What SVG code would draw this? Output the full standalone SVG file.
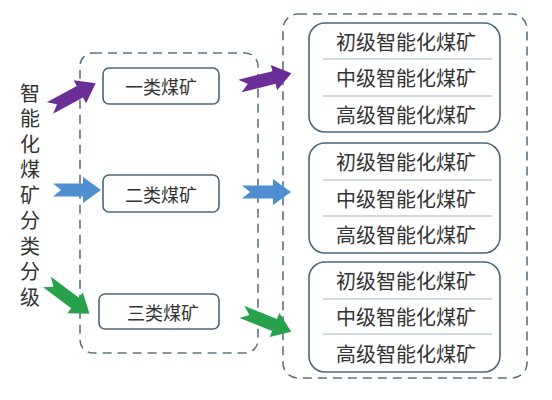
<svg xmlns="http://www.w3.org/2000/svg" width="552" height="400" viewBox="0 0 552 400">
<style>
text{font-family:"Noto Sans CJK SC","Liberation Sans",sans-serif;fill:#333;text-anchor:middle;dominant-baseline:central}
.dash{fill:none;stroke:#5a7487;stroke-width:1.6;stroke-dasharray:9 6}
.node{fill:#fff;stroke:#4b677c;stroke-width:1.6}
.div{stroke:#9fb3c4;stroke-width:1.2}
.t18{font-size:18px}
.t20{font-size:20px}
.vert{writing-mode:vertical-rl;text-anchor:start;letter-spacing:5.5px}
</style>
<rect width="552" height="400" fill="#fff"/>
<g id="title">
<text class="t20 vert" x="30" y="83">智能化煤矿分类分级</text>
</g>
<g id="groupMid"><rect class="dash" x="80" y="53" width="178" height="300" rx="13"/></g>
<g id="groupRight"><rect class="dash" x="283" y="14" width="244" height="364" rx="15"/></g>
<g id="class1"><rect class="node" x="103" y="68" width="116" height="36" rx="6"/><text class="t18" x="161" y="86">一类煤矿</text></g>
<g id="class2"><rect class="node" x="103" y="175" width="116" height="37" rx="6"/><text class="t18" x="161" y="193.5">二类煤矿</text></g>
<g id="class3"><rect class="node" x="99" y="294" width="120" height="35" rx="6"/><text class="t18" x="163" y="311.5">三类煤矿</text></g>
<g id="levels1" class="t20">
<rect class="node" x="309" y="23" width="191" height="109" rx="16"/>
<line class="div" x1="323" y1="59" x2="492" y2="59"/><line class="div" x1="323" y1="96" x2="492" y2="96"/>
<text x="406" y="41">初级智能化煤矿</text><text x="406" y="77.5">中级智能化煤矿</text><text x="406" y="114">高级智能化煤矿</text>
</g>
<g id="levels2" class="t20">
<rect class="node" x="309" y="143" width="191" height="110" rx="16"/>
<line class="div" x1="323" y1="180" x2="492" y2="180"/><line class="div" x1="323" y1="216" x2="492" y2="216"/>
<text x="406" y="161.5">初级智能化煤矿</text><text x="406" y="198">中级智能化煤矿</text><text x="406" y="234.5">高级智能化煤矿</text>
</g>
<g id="levels3" class="t20">
<rect class="node" x="309" y="262" width="191" height="110" rx="16"/>
<line class="div" x1="323" y1="299" x2="492" y2="299"/><line class="div" x1="323" y1="334" x2="492" y2="334"/>
<text x="406" y="280.5">初级智能化煤矿</text><text x="406" y="316.5">中级智能化煤矿</text><text x="406" y="353">高级智能化煤矿</text>
</g>
<g id="connectors">
<polygon fill="#6b2e96" transform="translate(50,108) rotate(-28.5)" points="0,-6.5 34,-6.5 34,-13 52,0 34,13 34,6.5 0,6.5 8,0"/>
<polygon fill="#6b2e96" transform="translate(240,86) rotate(-14)" points="0,-6.5 35,-6.5 35,-13 53,0 35,13 35,6.5 0,6.5 8,0"/>
<polygon fill="#4f8fcf" transform="translate(53,190)" points="0,-6.5 30,-6.5 30,-13 48,0 30,13 30,6.5 0,6.5 8,0"/>
<polygon fill="#4f8fcf" transform="translate(242,192)" points="0,-6.5 31,-6.5 31,-13 49,0 31,13 31,6.5 0,6.5 8,0"/>
<polygon fill="#27a14a" transform="translate(47,282) rotate(36.7)" points="0,-6.5 35,-6.5 35,-13 53,0 35,13 35,6.5 0,6.5 8,0"/>
<polygon fill="#27a14a" transform="translate(242,312) rotate(21.8)" points="0,-6.5 35,-6.5 35,-13 53,0 35,13 35,6.5 0,6.5 8,0"/>
</g>
</svg>
